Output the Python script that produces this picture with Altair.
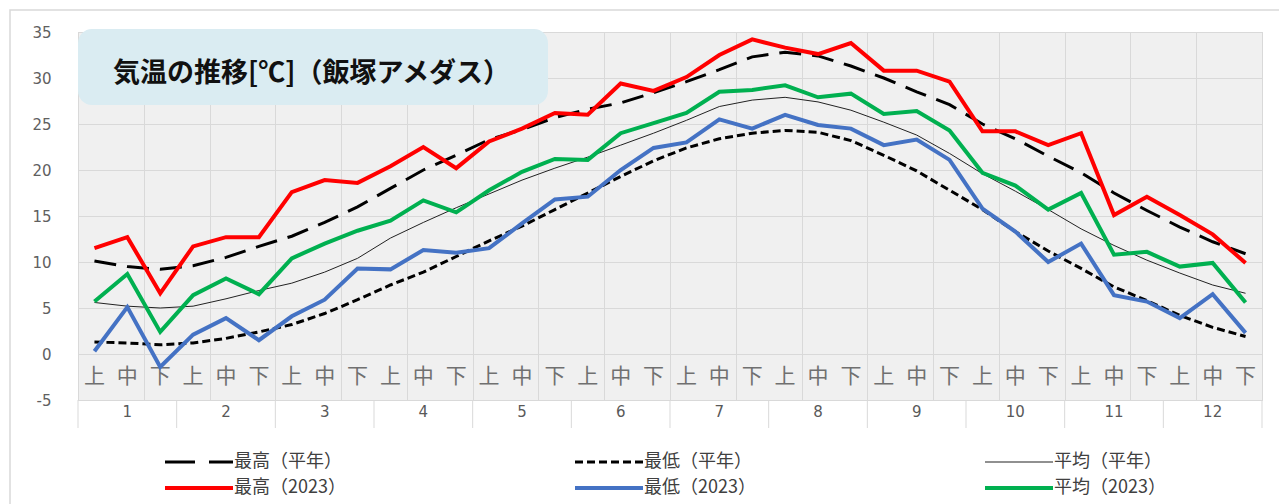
import altair as alt
import pandas as pd

# ---- data ----
dekads = ["上", "中", "下"] * 12
months = [str(m) for m in range(1, 13)]

max_normal = [10.1, 9.5, 9.2, 9.6, 10.5, 11.7, 12.8, 14.3, 16.0, 18.0, 20.0, 21.6,
              23.3, 24.4, 25.7, 26.6, 27.3, 28.4, 29.6, 30.9, 32.3, 32.8, 32.4, 31.3,
              30.0, 28.5, 27.1, 25.0, 23.4, 21.5, 19.7, 17.5, 15.6, 13.8, 12.2, 10.9]
min_normal = [1.3, 1.2, 1.0, 1.2, 1.7, 2.4, 3.2, 4.4, 5.9, 7.5, 8.9, 10.6,
              12.3, 13.9, 15.7, 17.5, 19.3, 21.0, 22.4, 23.4, 24.0, 24.3, 24.1, 23.2,
              21.6, 19.9, 17.8, 15.7, 13.3, 11.2, 9.3, 7.3, 5.8, 4.2, 2.9, 1.9]
avg_normal = [5.6, 5.2, 5.0, 5.2, 6.0, 6.9, 7.7, 8.9, 10.4, 12.6, 14.3, 15.9,
              17.4, 18.9, 20.2, 21.4, 22.7, 24.0, 25.4, 26.9, 27.6, 27.9, 27.4, 26.5,
              25.2, 23.8, 21.8, 19.6, 17.7, 15.7, 13.6, 11.8, 10.2, 8.8, 7.5, 6.6]
max_2023 = [11.5, 12.7, 6.6, 11.7, 12.7, 12.7, 17.6, 18.9, 18.6, 20.4, 22.5, 20.2,
            23.1, 24.5, 26.2, 26.0, 29.4, 28.6, 30.1, 32.5, 34.2, 33.3, 32.6, 33.8,
            30.8, 30.8, 29.6, 24.2, 24.2, 22.7, 24.0, 15.1, 17.1, 15.1, 13.0, 9.9]
min_2023 = [0.3, 5.1, -1.4, 2.1, 3.9, 1.5, 4.1, 5.9, 9.3, 9.2, 11.3, 11.0,
            11.5, 14.2, 16.8, 17.1, 20.0, 22.4, 23.0, 25.5, 24.5, 26.0, 24.9, 24.5,
            22.7, 23.3, 21.1, 15.8, 13.3, 10.0, 12.0, 6.4, 5.7, 3.9, 6.5, 2.3]
avg_2023 = [5.7, 8.7, 2.4, 6.4, 8.2, 6.5, 10.4, 12.0, 13.4, 14.5, 16.7, 15.4,
            17.8, 19.8, 21.2, 21.1, 24.0, 25.1, 26.2, 28.5, 28.7, 29.2, 27.9, 28.3,
            26.1, 26.4, 24.3, 19.7, 18.3, 15.7, 17.5, 10.8, 11.1, 9.5, 9.9, 5.6]

series_names = ["最高（平年）", "最低（平年）", "平均（平年）",
                "最高（2023）", "最低（2023）", "平均（2023）"]
series_values = [max_normal, min_normal, avg_normal, max_2023, min_2023, avg_2023]
series_colors = ["#000000", "#000000", "#222222", "#ff0000", "#4472c4", "#00b050"]
series_dash = [[22, 11], [8, 4], None, None, None, None]
series_width = [3, 3, 1, 4, 4, 4]
legend_dash = [[30, 14], [8, 4], None, None, None, None]

title_text = "気温の推移[℃]（飯塚アメダス）"

W, H = 1184, 368
xscale = alt.Scale(domain=[-0.5, 35.5], nice=False, zero=False)
yscale = alt.Scale(domain=[-5, 35], nice=False)

x_enc = alt.X("i:Q", scale=xscale,
              axis=alt.Axis(values=[k - 0.5 for k in range(37)], labels=False,
                            ticks=False, domain=False, grid=True, gridColor="#d9d9d9",
                            title=None))
y_enc = alt.Y("v:Q", scale=yscale,
              axis=alt.Axis(values=list(range(-5, 36, 5)), grid=True, gridColor="#d9d9d9",
                            ticks=False, domain=False, labelFont="DejaVu Sans",
                            labelFontSize=15, labelColor="#606060", labelPadding=27,
                            labelExpr="'' + datum.value", title=None))

one = pd.DataFrame({"t": [title_text]})

line_layers = []
legend_layers = []
for k, (name, vals, col, dash, sw, ldash) in enumerate(
        zip(series_names, series_values, series_colors, series_dash, series_width, legend_dash)):
    d = pd.DataFrame({"i": list(range(36)), "v": vals})
    kw = dict(color=col, strokeWidth=sw)
    if dash:
        kw["strokeDash"] = dash
    line_layers.append(alt.Chart(d).mark_line(**kw).encode(x=x_enc, y=y_enc))

    colk, rowk = k % 3, k // 3
    x0 = 87 + colk * 410
    yy = 430 + rowk * 26
    lkw = dict(color=col, strokeWidth=sw if sw > 1 else 1.2)
    if ldash:
        lkw["strokeDash"] = ldash
    ld = pd.DataFrame({"t": [name]})
    legend_layers.append(alt.Chart(ld).mark_rule(**lkw).encode(
        x=alt.value(x0), x2=alt.value(x0 + 68), y=alt.value(yy)))
    legend_layers.append(alt.Chart(ld).mark_text(
        align="left", baseline="middle", font="Noto Sans CJK JP", fontSize=18,
        color="#404040").encode(x=alt.value(x0 + 69), y=alt.value(yy), text="t:N"))

dek_df = pd.DataFrame({"i": list(range(36)), "lab": dekads})
mon_df = pd.DataFrame({"i": [3 * k + 1 for k in range(12)], "lab": months})
sep_df = pd.DataFrame({"b": [3 * k - 0.5 for k in range(13)]})

title_box = alt.Chart(one).mark_rect(cornerRadius=14, color="#daecf2").encode(
    x=alt.value(0), x2=alt.value(470), y=alt.value(-3), y2=alt.value(73))
title_txt = alt.Chart(one).mark_text(
    align="left", baseline="middle", font="Noto Sans CJK JP", fontSize=27,
    fontWeight="bold", color="#111111").encode(
    x=alt.value(35), y=alt.value(42), text="t:N")

dek_txt = alt.Chart(dek_df).mark_text(
    baseline="middle", font="Noto Sans CJK JP", fontSize=21, color="#707070").encode(
    x=alt.X("i:Q", scale=xscale), y=alt.datum(-2.5), text="lab:N")
mon_txt = alt.Chart(mon_df).mark_text(
    baseline="middle", font="DejaVu Sans", fontSize=15, color="#595959").encode(
    x=alt.X("i:Q", scale=xscale), y=alt.value(380), text="lab:N")
seps = alt.Chart(sep_df).mark_rule(color="#d9d9d9", strokeWidth=1).encode(
    x=alt.X("b:Q", scale=xscale), y=alt.datum(-5), y2=alt.value(396))

frame = alt.Chart(one).mark_rect(filled=False, stroke="#d9d9d9", strokeWidth=1.5).encode(
    x=alt.value(-68), x2=alt.value(1300), y=alt.value(-22), y2=alt.value(600))

chart = alt.layer(
    frame, *line_layers[:3], title_box, title_txt, dek_txt, mon_txt, seps,
    *line_layers[3:], *legend_layers
).resolve_scale(x="shared", y="shared").properties(
    width=W, height=H,
    autosize="none",
    padding={"left": 78, "top": 32, "right": 17, "bottom": 104},
    background="white",
).configure_view(fill="#f0f0f0", stroke="#d0d0d0")

chart.save("out.html", embed_options={"renderer": "svg", "actions": False})
